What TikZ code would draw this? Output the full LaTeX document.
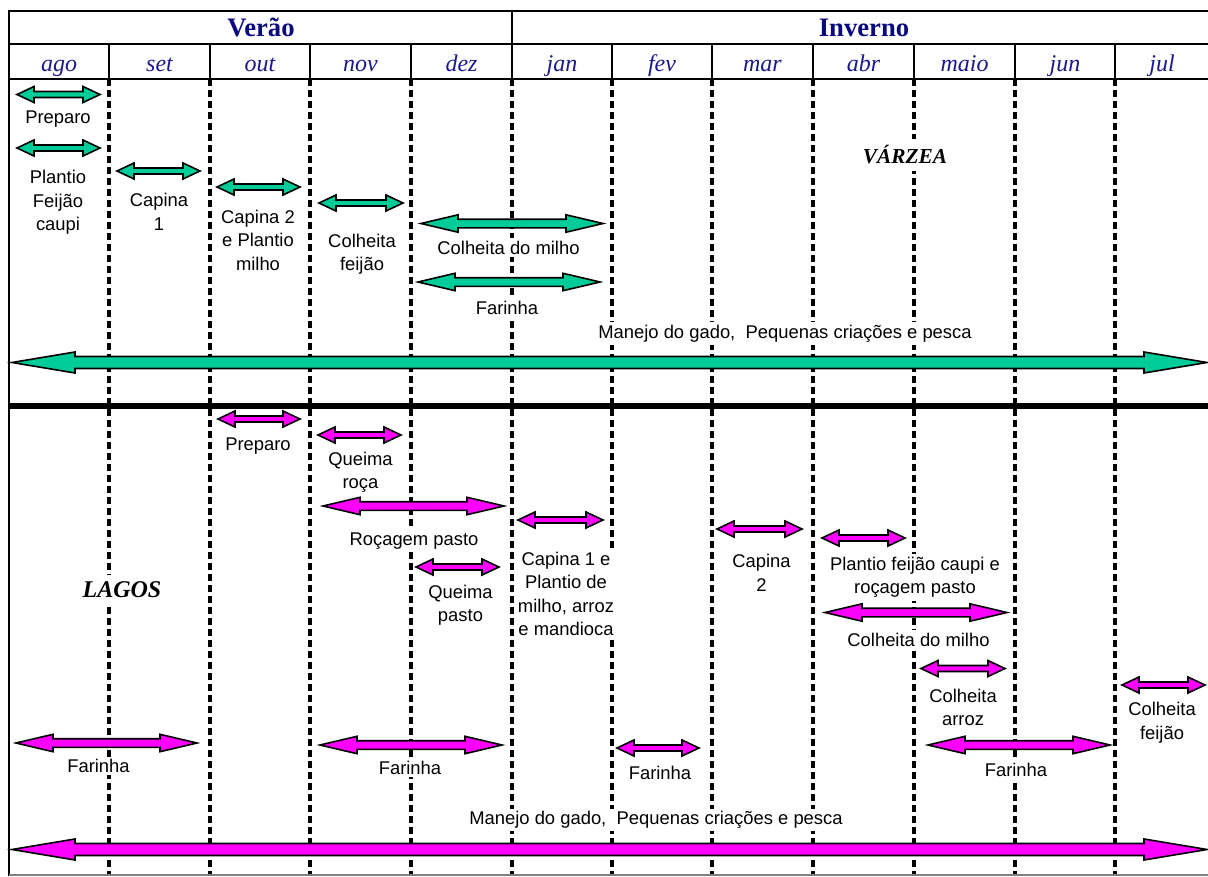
\documentclass[tikz,border=0pt]{standalone}
\usepackage{fontspec}
\setmainfont{Liberation Serif}
\newfontfamily\arialfont{Liberation Sans}
\definecolor{greenfill}{HTML}{00CC99}
\definecolor{pinkfill}{HTML}{FF00FF}
\definecolor{monthblue}{HTML}{1A1A8C}
\definecolor{seasonblue}{HTML}{0A0A80}

% double-headed block arrow: colour, x1, x2, y, shaft half-height, head half-height, head length
\newcommand\biarrow[7]{%
  \filldraw[blockline, fill=#1] (#2,#4) -- (#2+#7,#4-#6) -- (#2+#7,#4-#5) -- (#3-#7,#4-#5)
    -- (#3-#7,#4-#6) -- (#3,#4) -- (#3-#7,#4+#6) -- (#3-#7,#4+#5) -- (#2+#7,#4+#5)
    -- (#2+#7,#4+#6) -- cycle;}
\newcommand\shortarr[4]{\biarrow{#1}{#2}{#3}{#4}{3}{8}{17}}
\newcommand\midarr[4]{\biarrow{#1}{#2}{#3}{#4}{4.3}{8.7}{37}}
\newcommand\longarr[4]{\biarrow{#1}{#2}{#3}{#4}{6}{10.5}{63}}

\begin{document}
\begin{tikzpicture}[x=0.75pt,y=-0.75pt,
  frameline/.style={line width=2.2pt},
  midline/.style={line width=4.2pt},
  monthdash/.style={line width=2.4pt, dash pattern=on 5.25pt off 3pt},
  blockline/.style={draw=black, line width=1.2pt, line join=miter},
  lbl/.style={font=\arialfont\fontsize{13.8}{17.6}\selectfont, align=center, fill=white, inner sep=2pt},
  month/.style={font=\fontsize{18}{22}\selectfont\itshape, text=monthblue, anchor=base},
  season/.style={font=\fontsize{20}{24}\selectfont\bfseries, text=seasonblue, anchor=base},
  region/.style={font=\fontsize{16}{20}\selectfont\bfseries\itshape, fill=white, inner sep=5pt}]
\useasboundingbox (0,0) rectangle (1208,876);

% dashed month boundaries
\foreach \x in {109,210,310,411,512,612,712,813,914,1015,1115}
  \draw[monthdash] (\x,79) -- (\x,876);

% header frame
\draw[frameline] (9,876) -- (9,11) -- (1208,11);
\draw[frameline] (9,44) -- (1208,44);
\draw[frameline] (9,79) -- (1208,79);
\draw[frameline] (512,11) -- (512,44);
\foreach \x in {109,210,310,411,512,612,712,813,914,1015,1115}
  \draw[frameline] (\x,44) -- (\x,79);
\draw[midline] (9,406) -- (1208,406);
\draw[gray, line width=0.8pt] (9,875) -- (1208,875);

% seasons and months
\node[season] (verao) at (261,36) {Verão};
\node[season] (inverno) at (864,36) {Inverno};
\foreach \m/\x in {ago/59,set/159.5,out/260,nov/360.5,dez/461.5,jan/562,fev/662,mar/762.5,abr/863.5,maio/964.5,jun/1065,jul/1162}
  \node[month] (m-\m) at (\x,71) {\m};

% ---- várzea ----
\node[lbl] (v-prep) at (58,119.5) {Preparo};
\node[lbl] (v-plant) at (58,202.5) {Plantio\\Feijão\\caupi};
\node[lbl] (v-cap1) at (159,212) {Capina\\1};
\node[lbl] (v-cap2) at (258,240) {Capina 2\\e Plantio\\milho};
\node[lbl] (v-colf) at (362,254.5) {Colheita\\feijão};
\node[lbl] (v-colm) at (508.5,247.5) {Colheita do milho};
\node[lbl] (v-far) at (507,307.5) {Farinha};
\node[lbl] (v-man) at (785,333.5) {Manejo do gado,\ \ Pequenas criações e pesca};
\node[region] (varzea) at (905,155) {VÁRZEA};

\shortarr{greenfill}{17}{100}{94.5}
\shortarr{greenfill}{17}{100}{148}
\shortarr{greenfill}{117}{200}{171}
\shortarr{greenfill}{217}{300}{187}
\shortarr{greenfill}{319}{403}{203}
\midarr{greenfill}{421}{603}{223.5}
\midarr{greenfill}{418}{600}{282}
\longarr{greenfill}{12}{1207}{362.5}

% ---- lagos ----
\node[lbl] (l-prep) at (258,446) {Preparo};
\node[lbl] (l-qroca) at (360.5,472.5) {Queima\\roça};
\node[lbl] (l-rocp) at (414,541) {Roçagem pasto};
\node[lbl] (l-qpasto) at (460.5,605) {Queima\\pasto};
\node[lbl] (l-cap1) at (566,594) {Capina 1 e\\Plantio de\\milho, arroz\\e mandioca};
\node[lbl] (l-cap2) at (761.5,573) {Capina\\2};
\node[lbl] (l-plant) at (915,577.5) {Plantio feijão caupi e\\roçagem pasto};
\node[lbl] (l-colm) at (918.5,639.5) {Colheita do milho};
\node[lbl] (l-cola) at (963,707.5) {Colheita\\arroz};
\node[lbl] (l-colf) at (1162,722.5) {Colheita\\feijão};
\node[lbl] (l-far1) at (98.5,766) {Farinha};
\node[lbl] (l-far2) at (410,768) {Farinha};
\node[lbl] (l-far3) at (660,773) {Farinha};
\node[lbl] (l-far4) at (1016,770) {Farinha};
\node[lbl] (l-man) at (656,820) {Manejo do gado,\ \ Pequenas criações e pesca};
\node[region, font=\fontsize{18}{22}\selectfont\bfseries\itshape] (lagos) at (122,590) {LAGOS};

\shortarr{pinkfill}{218}{300}{419}
\shortarr{pinkfill}{318}{401}{435}
\midarr{pinkfill}{323}{504}{506}
\shortarr{pinkfill}{416}{499}{567}
\shortarr{pinkfill}{518}{603}{520}
\shortarr{pinkfill}{717}{802}{529}
\shortarr{pinkfill}{822}{905}{538}
\midarr{pinkfill}{825}{1007}{612.5}
\shortarr{pinkfill}{921}{1005}{668.5}
\shortarr{pinkfill}{1122}{1205}{685}
\midarr{pinkfill}{16}{197}{743}
\midarr{pinkfill}{320}{502}{745}
\shortarr{pinkfill}{617}{699}{748}
\midarr{pinkfill}{928}{1110}{745}
\longarr{pinkfill}{12}{1207}{849.5}
\end{tikzpicture}
\end{document}
